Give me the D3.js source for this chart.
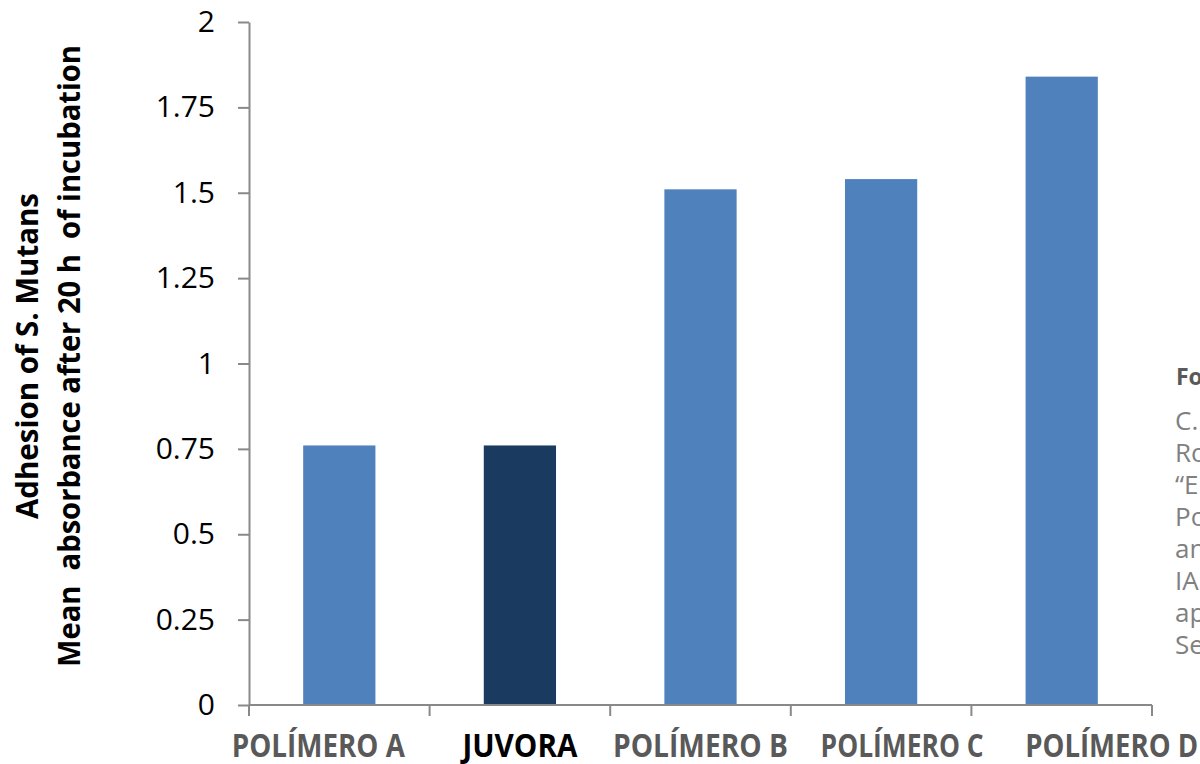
<!DOCTYPE html>
<html>
<head>
<meta charset="utf-8">
<script src="https://cdn.jsdelivr.net/npm/d3@7"></script>
<style>
  html, body { margin: 0; padding: 0; background: #fff; }
  svg { display: block; }
</style>
</head>
<body>
<div id="chart"></div>
<script>
// data
const categories = ["POLÍMERO A", "JUVORA", "POLÍMERO B", "POLÍMERO C", "POLÍMERO D"];
const values = [0.76, 0.76, 1.51, 1.54, 1.84];
const yTicks = [0, 0.25, 0.5, 0.75, 1, 1.25, 1.5, 1.75, 2];
const yTickLabels = ["0", "0.25", "0.5", "0.75", "1", "1.25", "1.5", "1.75", "2"];
const titleLines = ["Adhesion of S. Mutans", "Mean  absorbance after 20 h  of incubation"];
const sourceHead = "Fonte:";
const sourceLines = ["C. R. Costa,", "Rocha, M.", "“E. Estudo", "Polímeros", "and", "IADR", "april", "Seattle"];

const width = 1200, height = 764;
const plotLeft = 249, plotRight = 1152, plotTop = 22, plotBottom = 705;
const axisColor = "#898989";

const svg = d3.select("#chart").append("svg")
  .attr("width", width)
  .attr("height", height);

const x = d3.scaleBand()
  .domain(categories)
  .range([plotLeft, plotRight])
  .paddingInner(0.6)
  .paddingOuter(0.3);

const y = d3.scaleLinear()
  .domain([0, 2])
  .range([plotBottom, plotTop]);

// bars
svg.selectAll("rect.bar")
  .data(values)
  .enter().append("rect")
  .attr("class", "bar")
  .attr("x", (d, i) => x(categories[i]))
  .attr("width", x.bandwidth())
  .attr("y", d => y(d))
  .attr("height", d => y(0) - y(d))
  .attr("fill", (d, i) => categories[i] === "JUVORA" ? "#1b3a60" : "#4f81bd");

// y axis
const yAxis = d3.axisLeft(y)
  .tickValues(yTicks)
  .tickFormat((d, i) => yTickLabels[i])
  .tickSize(11)
  .tickSizeOuter(0)
  .tickPadding(23);

const gy = svg.append("g")
  .attr("transform", `translate(${plotLeft},0)`)
  .call(yAxis);
gy.select(".domain").attr("stroke", axisColor).attr("stroke-width", 2);
gy.selectAll(".tick line").attr("stroke", axisColor).attr("stroke-width", 2);
gy.selectAll(".tick text")
  .attr("fill", "#000")
  .style("font-family", "'Open Sans', sans-serif")
  .style("font-size", "30px");

// x axis line and category boundary ticks
svg.append("line")
  .attr("x1", plotLeft).attr("x2", plotRight)
  .attr("y1", y(0)).attr("y2", y(0))
  .attr("stroke", axisColor).attr("stroke-width", 2);

// boundaries half a gap before each band, plus the far end
const half = x.step() * x.paddingInner() / 2;
const edges = categories.map(c => x(c) - half).concat([x(categories[categories.length - 1]) + x.bandwidth() + half]);
svg.selectAll("line.xtick")
  .data(edges)
  .enter().append("line")
  .attr("class", "xtick")
  .attr("x1", d => d).attr("x2", d => d)
  .attr("y1", y(0)).attr("y2", y(0) + 11)
  .attr("stroke", axisColor).attr("stroke-width", 2);

// category labels (nudged and squeezed like in the original picture)
const labelShift = [-21, 0, 0, 21, 50];
const labelWidth = [173, 115, 175, 163, 173];
svg.selectAll("text.xlab")
  .data(categories)
  .enter().append("text")
  .attr("class", "xlab")
  .attr("x", (d, i) => x(d) + x.bandwidth() / 2 + labelShift[i])
  .attr("y", 757)
  .attr("text-anchor", "middle")
  .attr("fill", d => d === "JUVORA" ? "#000" : "#595959")
  .attr("textLength", (d, i) => labelWidth[i])
  .attr("lengthAdjust", "spacingAndGlyphs")
  .style("font-family", "'Open Sans', sans-serif")
  .style("font-weight", "bold")
  .style("font-size", "33px")
  .text(d => d);

// y title, two rotated lines
const titleX = [38, 80];
const titleLen = [326, 622];
titleLines.forEach((t, i) => {
  svg.append("text")
    .attr("transform", `translate(${titleX[i]},356) rotate(-90)`)
    .attr("text-anchor", "middle")
    .attr("fill", "#000")
    .attr("textLength", titleLen[i])
    .attr("lengthAdjust", "spacingAndGlyphs")
    .style("font-family", "'Open Sans', sans-serif")
    .style("font-weight", "bold")
    .style("font-size", "30px")
    .style("white-space", "pre")
    .text(t);
});

// source note, cut off at the right edge
svg.append("text")
  .attr("x", 1176).attr("y", 385)
  .attr("fill", "#595959")
  .style("font-family", "'Open Sans', sans-serif")
  .style("font-weight", "bold")
  .style("font-size", "23px")
  .text(sourceHead);

svg.selectAll("text.src")
  .data(sourceLines)
  .enter().append("text")
  .attr("class", "src")
  .attr("x", 1175)
  .attr("y", (d, i) => 430 + i * 32)
  .attr("fill", "#808080")
  .style("font-family", "'Open Sans', sans-serif")
  .style("font-size", "26px")
  .text(d => d);
</script>
</body>
</html>
